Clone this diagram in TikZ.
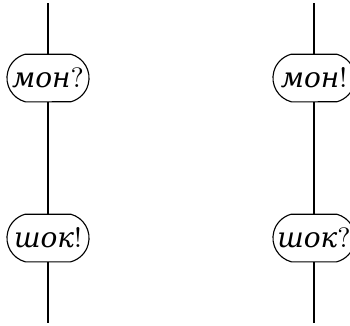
\documentclass[tikz,border=0pt]{standalone}
\usepackage{fontspec}
\newfontfamily\cyr{DejaVu Serif}
\usetikzlibrary{shapes.misc}
\newcommand{\cy}[1]{{\cyr\itshape #1}}
\begin{document}
\begin{tikzpicture}[x=0.357pt,y=-0.357pt,
  blob/.style={draw, rounded rectangle, rounded rectangle arc length=150, minimum width=29.3pt, minimum height=17pt, inner sep=0pt, font=\fontsize{10}{12}\selectfont},
  wire/.style={draw, line width=0.4pt}]
\useasboundingbox (0,0) rectangle (350,325);
\clip (0,0) rectangle (350,325);
\coordinate (lt) at (48,3);
\coordinate (lb) at (48,323);
\coordinate (rt) at (314,3);
\coordinate (rb) at (314,323);
\node[blob] (lm) at (48,78) {\cy{мон}?};
\node[blob] (ls) at (48,238) {\cy{шок}!};
\node[blob] (rm) at (314,78) {\cy{мон}!};
\node[blob] (rs) at (314,238) {\cy{шок}?};
\draw[wire] (lt) -- (lm.north);
\draw[wire] (lm.south) -- (ls.north);
\draw[wire] (ls.south) -- (lb);
\draw[wire] (rt) -- (rm.north);
\draw[wire] (rm.south) -- (rs.north);
\draw[wire] (rs.south) -- (rb);
\end{tikzpicture}
\end{document}
